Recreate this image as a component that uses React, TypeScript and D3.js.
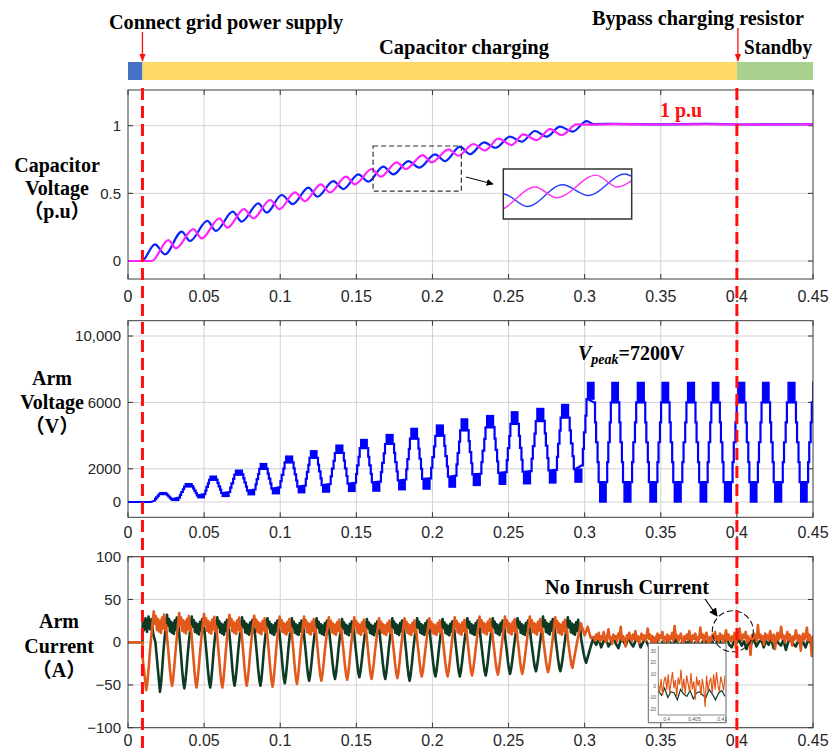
import * as d3 from "d3";

const W = 830;
const H = 753;
const X0 = 128;
const X1 = 813;

const SERIF = "'Liberation Serif', 'Times New Roman', 'Noto Sans CJK SC', serif";
const SANS = "'Liberation Sans', Arial, Helvetica, sans-serif";

// ---- axes ----
const X_TICKS = [0, 0.05, 0.1, 0.15, 0.2, 0.25, 0.3, 0.35, 0.4, 0.45];
const CAP_TICKS = [0, 0.5, 1];
const ARMV_TICKS = [0, 2000, 6000, 10000];
const ARMV_TICK_LABELS = ["0", "2000", "6000", "10,000"];
const ARMI_TICKS = [-100, -50, 0, 50, 100];

// ---- events ----
const CONNECT_T = 0.0095;
const BYPASS_T = 0.4;
const STAGE_FROM = [0, CONNECT_T, BYPASS_T];
const STAGE_TO = [CONNECT_T, BYPASS_T, 0.45];
const STAGE_COLOR = ["#4472c4", "#ffd966", "#a9d18e"];

// ---- capacitor voltage (p.u), extrema ----
const BLUE_T = [0, 0.009, 0.0177, 0.0243, 0.0353, 0.0407, 0.0521, 0.0578, 0.0688, 0.0747, 0.0856, 0.0911, 0.101, 0.1082, 0.1185, 0.1244, 0.1349, 0.1415, 0.1513, 0.1579, 0.1677, 0.1743, 0.1842, 0.1914, 0.2017, 0.2083, 0.2181, 0.2247, 0.2340, 0.2415, 0.251, 0.2586, 0.2674, 0.275, 0.2838, 0.2921, 0.3013, 0.306, 0.32, 0.35, 0.38, 0.41, 0.45];
const BLUE_V = [0, 0, 0.123, 0.049, 0.217, 0.148, 0.296, 0.222, 0.365, 0.291, 0.426, 0.357, 0.488, 0.421, 0.542, 0.475, 0.591, 0.532, 0.64, 0.586, 0.697, 0.64, 0.739, 0.69, 0.788, 0.739, 0.845, 0.79, 0.877, 0.837, 0.919, 0.882, 0.961, 0.919, 0.993, 0.956, 1.034, 1.012, 1.014, 1.01, 1.013, 1.009, 1.011];
const MAG_T = [0, 0.0156, 0.0265, 0.0315, 0.0429, 0.0484, 0.06, 0.0653, 0.0762, 0.0823, 0.0933, 0.0995, 0.1097, 0.1163, 0.1266, 0.1327, 0.1432, 0.1491, 0.1601, 0.166, 0.1765, 0.1826, 0.1936, 0.1995, 0.2105, 0.217, 0.2269, 0.2345, 0.2433, 0.252, 0.2597, 0.2685, 0.2772, 0.285, 0.2947, 0.303, 0.32, 0.35, 0.38, 0.41, 0.45];
const MAG_V = [0, 0, 0.155, 0.094, 0.236, 0.167, 0.315, 0.246, 0.384, 0.315, 0.451, 0.384, 0.507, 0.443, 0.567, 0.507, 0.623, 0.567, 0.68, 0.623, 0.729, 0.68, 0.783, 0.729, 0.825, 0.778, 0.865, 0.817, 0.904, 0.857, 0.936, 0.894, 0.975, 0.931, 1.01, 1.008, 1.012, 1.009, 1.011, 1.008, 1.01];
const CAP_ZOOM_T = [0.161, 0.219];
const CAP_ZOOM_V = [0.517, 0.85];
const CAP_INSET_T = [0.1676, 0.2036];
const CAP_INSET_V = [0.583, 0.811];

// ---- arm voltage (V): trough before each peak, then the peak ----
const ARMV_TROUGH_T = [0.015, 0.031, 0.048, 0.064, 0.081, 0.097, 0.114, 0.13, 0.147, 0.163, 0.18, 0.196, 0.213, 0.229, 0.246, 0.262, 0.279, 0.296, 0.312, 0.328, 0.345, 0.361, 0.378, 0.394, 0.411, 0.427, 0.444];
const ARMV_TROUGH = [0, 100, 260, 340, 440, 500, 560, 600, 640, 660, 740, 780, 900, 1000, 1070, 1100, 1150, 1200, 0, 0, 0, 0, 0, 0, 0, 0, 0];
const ARMV_PEAK_T = [0.023, 0.04, 0.056, 0.073, 0.089, 0.106, 0.122, 0.139, 0.155, 0.172, 0.188, 0.205, 0.221, 0.238, 0.254, 0.271, 0.287, 0.304, 0.32, 0.337, 0.353, 0.37, 0.386, 0.403, 0.419, 0.436, 0.452];
const ARMV_PEAK = [560, 1100, 1550, 1910, 2310, 2760, 3080, 3420, 3760, 4060, 4430, 4630, 5000, 5200, 5430, 5630, 5870, 7200, 7200, 7200, 7200, 7200, 7200, 7200, 7200, 7200, 7200];
// staircase: where the level changes inside each half cycle (fraction of the half)
const STAIR_AT = [0.26, 0.35, 0.44, 0.56, 0.65, 0.74];

// ---- arm current (A) ----
const ORANGE_DIP_T = [0.012, 0.029, 0.045, 0.062, 0.078, 0.095, 0.111, 0.127, 0.144, 0.16, 0.177, 0.193, 0.21, 0.226, 0.243, 0.259, 0.276, 0.292];
const ORANGE_DIP = [-56, -51, -53, -53, -51, -52, -49, -45, -44, -43, -42, -40, -40, -39, -38, -37, -35, -30];
const ORANGE_PEAK = [36, 34, 33, 32, 31, 30, 30, 29, 29, 28, 28, 28, 29, 30, 30, 30, 29, 22];
const GREEN_DIP_T = [0.021, 0.037, 0.054, 0.07, 0.087, 0.103, 0.119, 0.136, 0.152, 0.169, 0.185, 0.202, 0.218, 0.235, 0.251, 0.268, 0.284, 0.301];
const GREEN_DIP = [-58, -54, -53, -51, -51, -48, -45, -43, -41, -43, -45, -40, -40, -39, -37, -34, -34, -24];
const GREEN_PEAK = [32, 30, 29, 29, 28, 28, 28, 27, 27, 28, 28, 27, 28, 28, 28, 30, 29, 20];
// one cycle from dip to dip: negative = share of the dip, positive = share of the peak
const CUR_PHASE = [0.04, 0.09, 0.14, 0.19, 0.24, 0.29, 0.33, 0.37, 0.41, 0.45, 0.49, 0.53, 0.57, 0.61, 0.65, 0.69, 0.73, 0.77, 0.81, 0.86, 0.91, 0.96];
const CUR_LEVEL = [-0.85, -0.55, -0.2, 0.15, 0.6, 1, 0.6, 0.85, 0.4, 0.75, 0.35, 0.7, 0.3, 0.8, 0.45, 0.9, 0.4, 0.55, 0.1, -0.25, -0.6, -0.88];
const ORANGE_PRE_T = [0, 0.0095, 0.0097];
const ORANGE_PRE = [0, 0, -20];
const ORANGE_TAIL_T = [0.295, 0.2975, 0.3, 0.302, 0.304];
const ORANGE_TAIL = [0, 22, 8, 18, 5];
const GREEN_PRE_T = [0, 0.0095, 0.0097, 0.0105, 0.0115, 0.0125, 0.0135, 0.0145, 0.0155, 0.0165, 0.018];
const GREEN_PRE = [0, 0, 26, 14, 28, 12, 30, 15, 27, 10, 0];
const GREEN_TAIL_T = [0.3035, 0.3055];
const GREEN_TAIL = [-8, 4];
const NOISE_T = [0.306, 0.45];
const ORANGE_NOISE = [
  6, 2, 9, 4, 11, 1, 7, 3, 12, 5, 0, 8, 15, 3, 6, -2, 9, 4, 7, 1,
  10, 5, 18, 2, 7, 4, -5, 8, 3, 11, 6, 1, 9, 4, 13, 2, 7, -1, 5, 10,
  3, 8, 1, 6, 16, 4, 9, 0, 7, 3, -9, 6, 10, 2, 8, 5, 12, 1, 6, 3,
  9, -3, 7, 4, 11, 2, 19, 5, 8, 1, 6, 10, 3, -6, 7, 4, 9, 2, 13, 5,
  1, 8, 4, 10, -2, 6, 3, 17, 5, 9, 0, 7, 11, 4, -12, 6, 2, 9, 5, 12,
  3, 7, 1, 10, 4, 8, -4, 6, 14, 2, 9, 5, 1, 7, 3, 11, -7, 8, 4, 16,
  6, 2, 9, 5, 12, 0, 7, 3, -15, 8, 4, 10, 6, 1, 20, 5, 9, 3, 7, -3,
  10, 4, 8, 2, 13, 6, 1, 9, -8, 5, 11, 3, 7, 18, 4, 8, 0, 6, 12, 2,
  9, 5, -4, 7, 3, 14, 6, 1, 8, -10, 5, 10, 3, 7, 17, 2, 9, 4, -16, 8,
];
const GREEN_NOISE = [
  2, -3, 4, -6, 1, 3, -5, 0, 5, -2, -7, 3, 1, -4, 6, -1, -5, 2, 4, -6, 0, 3, -3, -8, 2, 5, -2, -4, 1, -6,
  3, 0, -5, 4, -2, -7, 2, 1, -3, 5, -5, -1, 3, -6, 0, 4, -4, -2, 2, -7, 1, 3, -5, 0, 4, -3, -6, 2, -1, 3,
  -4, 1, -8, 2, -2, 4, -5, 0, 3, -6, 1, -3, 5, -7, 2, -1, -4, 3, -9, 1, 4, -2, -5, 2, -3, 0, -6, 3, -1, -4,
];
// small inset (0.3985 .. 0.4105 s)
const INSET_T = [0.3985, 0.4105];
const INSET_I = [-25, 34.3];
const INSET_X_TICKS = [0.4, 0.405, 0.41];
const INSET_Y_TICKS = [-20, -10, 0, 10, 20, 30];
const INSET_ORANGE = [2, -5, 6, -8, 4, 8, -3, 10, -6, 3, 12, -2, 5, -9, 7, 1, 14, -4, 6, -7, 9, 2, -5, 11, -3, 4, -12, 8, 0, 5, -8, 6, -2, -18, 9, -4, 3, 7, -6, 10, -3, 12, 1, -5, 8, 3, -4, 9];
const INSET_GREEN = [-4, -8, -2, -10, -5, -6, -12, -3, -7, -9, -4, -11, -6, -5, -8, -10, -3, -7, -12, -6, -4, -9];

const x = d3.scaleLinear().domain([0, 0.45]).range([X0, X1]);
const P1 = { top: 90, bottom: 279 };
const P2 = { top: 320.7, bottom: 517.3 };
const P3 = { top: 556.7, bottom: 727.7 };
const yCap = d3.scaleLinear().domain([-0.133, 1.264]).range([P1.bottom, P1.top]);
const yArmV = d3.scaleLinear().domain([-923, 10923]).range([P2.bottom, P2.top]);
const yArmI = d3.scaleLinear().domain([-100, 100]).range([P3.bottom, P3.top]);

type Pt = [number, number];
const zip = (t: number[], v: number[]): Pt[] => t.map((d, i) => [d, v[i]]);
const fmtX = (v: number) => String(+v.toFixed(3));

function armVoltage() {
  const ext: { t: number; v: number }[] = [];
  ARMV_PEAK_T.forEach((t, i) => {
    ext.push({ t: ARMV_TROUGH_T[i], v: ARMV_TROUGH[i] });
    ext.push({ t, v: ARMV_PEAK[i] });
  });
  const line: Pt[] = [[0, 0]];
  const blocks: { t0: number; t1: number; v0: number; v1: number }[] = [];
  for (let i = 0; i < ext.length - 1; i++) {
    const a = ext[i];
    const b = ext[i + 1];
    const d = b.t - a.t;
    const s = (b.v - a.v) / 6;
    if (i === 0) line.push([a.t, a.v]);
    else line.push([a.t + STAIR_AT[0] * d, a.v + s]);
    for (let j = 1; j < 5; j++) {
      line.push([a.t + STAIR_AT[j] * d, a.v + j * s]);
      line.push([a.t + STAIR_AT[j] * d, a.v + (j + 1) * s]);
    }
    line.push([a.t + STAIR_AT[5] * d, a.v + 5 * s]);
    const next = ext[i + 2];
    const dOut = next ? next.t - b.t : d;
    blocks.push({
      t0: b.t - STAIR_AT[0] * d,
      t1: b.t + STAIR_AT[0] * dOut,
      v0: Math.min(b.v, b.v - s),
      v1: Math.max(b.v, b.v - s),
    });
  }
  return { line, blocks };
}

function current(dipT: number[], dip: number[], peak: number[], pre: Pt[], tail: Pt[], noise: number[]) {
  const pts: Pt[] = [...pre];
  for (let k = 0; k < dipT.length - 1; k++) {
    const d = dipT[k + 1] - dipT[k];
    pts.push([dipT[k], dip[k]]);
    CUR_PHASE.forEach((p, j) => {
      const lvl = CUR_LEVEL[j];
      const dv = p < 0.5 ? dip[k] : dip[k + 1];
      pts.push([dipT[k] + p * d, lvl < 0 ? -lvl * dv : lvl * peak[k]]);
    });
  }
  const last = dipT.length - 1;
  pts.push([dipT[last], dip[last]]);
  pts.push(...tail);
  const tn = d3.scaleLinear().domain([0, noise.length - 1]).range(NOISE_T);
  noise.forEach((v, i) => pts.push([tn(i), v]));
  return pts;
}

function Panel({ top, bottom, y, ticks, labels, xLabelY, id }: any) {
  return (
    <g>
      <rect x={X0} y={top} width={X1 - X0} height={bottom - top} fill="#fff" />
      {X_TICKS.slice(1, -1).map((t) => (
        <line key={"gx" + t} x1={x(t)} x2={x(t)} y1={top} y2={bottom} stroke="#d2d2d2" strokeWidth={1} />
      ))}
      {ticks.map((v: number) => (
        <line key={"gy" + v} x1={X0} x2={X1} y1={y(v)} y2={y(v)} stroke="#d2d2d2" strokeWidth={1} />
      ))}
      {ticks.map((v: number, i: number) => (
        <g key={"ty" + v}>
          <line x1={X0} x2={X0 + 5} y1={y(v)} y2={y(v)} stroke="#333" />
          <line x1={X1 - 5} x2={X1} y1={y(v)} y2={y(v)} stroke="#333" />
          <text x={121} y={y(v)} dy="0.35em" textAnchor="end" fontFamily={SANS} fontSize={15} fill="#262626">
            {labels ? labels[i] : String(v).replace("-", "\u2212")}
          </text>
        </g>
      ))}
      {X_TICKS.map((t) => (
        <g key={"tx" + t}>
          <line x1={x(t)} x2={x(t)} y1={bottom} y2={bottom - 5} stroke="#333" />
          <line x1={x(t)} x2={x(t)} y1={top} y2={top + 5} stroke="#333" />
          <text x={x(t)} y={xLabelY} textAnchor="middle" fontFamily={SANS} fontSize={16} fill="#262626">
            {fmtX(t)}
          </text>
        </g>
      ))}
      <clipPath id={id}>
        <rect x={X0} y={top} width={X1 - X0} height={bottom - top} />
      </clipPath>
    </g>
  );
}

function Frame({ top, bottom }: { top: number; bottom: number }) {
  return <rect x={X0} y={top} width={X1 - X0} height={bottom - top} fill="none" stroke="#3a3a3a" strokeWidth={1} />;
}

function Label({ cx, lines, baselines }: { cx: number; lines: string[]; baselines: number[] }) {
  return (
    <g fontFamily={SERIF} fontWeight="bold" fontSize={20} fill="#000" textAnchor="middle">
      {lines.map((s, i) => (
        <text key={s} x={cx} y={baselines[i]}>
          {s}
        </text>
      ))}
    </g>
  );
}

export default function App() {
  const capLine = d3.line<Pt>().x((d) => x(d[0])).y((d) => yCap(d[1])).curve(d3.curveMonotoneX);
  const blue = zip(BLUE_T, BLUE_V);
  const mag = zip(MAG_T, MAG_V);

  const ix = d3.scaleLinear().domain(CAP_INSET_T).range([503.3, 631.7]);
  const iy = d3.scaleLinear().domain(CAP_INSET_V).range([219, 169]);
  const insetLine = d3.line<Pt>().x((d) => ix(d[0])).y((d) => iy(d[1])).curve(d3.curveMonotoneX);

  const av = armVoltage();
  const avLine = d3.line<Pt>().x((d) => x(d[0])).y((d) => yArmV(d[1]));

  const iLine = d3.line<Pt>().x((d) => x(d[0])).y((d) => yArmI(d[1]));
  const green = current(GREEN_DIP_T, GREEN_DIP, GREEN_PEAK, zip(GREEN_PRE_T, GREEN_PRE), zip(GREEN_TAIL_T, GREEN_TAIL), GREEN_NOISE);
  const orange = current(ORANGE_DIP_T, ORANGE_DIP, ORANGE_PEAK, zip(ORANGE_PRE_T, ORANGE_PRE), zip(ORANGE_TAIL_T, ORANGE_TAIL), ORANGE_NOISE);

  const sx = d3.scaleLinear().domain(INSET_T).range([658.3, 725]);
  const sy = d3.scaleLinear().domain(INSET_I).range([715, 646]);
  const sOr = d3.scaleLinear().domain([0, INSET_ORANGE.length - 1]).range(INSET_T);
  const sGr = d3.scaleLinear().domain([0, INSET_GREEN.length - 1]).range(INSET_T);
  const smallLine = d3.line<Pt>().x((d) => sx(d[0])).y((d) => sy(d[1]));

  const red = "#ff1010";

  return (
    <svg width={W} height={H} style={{ position: "absolute", left: 0, top: 0, background: "#fff" }}>
      <defs>
        <marker id="ahBlack" viewBox="0 0 10 10" refX="9" refY="5" markerWidth="7" markerHeight="7" orient="auto">
          <path d="M0,0 L10,5 L0,10 z" fill="#000" />
        </marker>
        <marker id="ahRed" viewBox="0 0 10 10" refX="9" refY="5" markerWidth="6" markerHeight="7" orient="auto">
          <path d="M0,1 L10,5 L0,9 z" fill={red} />
        </marker>
        <clipPath id="capInset">
          <rect x={503.3} y={169} width={128.4} height={50} />
        </clipPath>
        <clipPath id="curInset">
          <rect x={658.3} y={646} width={67} height={69} />
        </clipPath>
      </defs>

      {/* stage bar */}
      {STAGE_FROM.map((f, i) => (
        <rect key={i} x={x(f)} y={62} width={x(STAGE_TO[i]) - x(f)} height={18} fill={STAGE_COLOR[i]} />
      ))}
      <g fontFamily={SERIF} fontWeight="bold" fontSize={20} fill="#000">
        <text x={109} y={29} textLength={234} lengthAdjust="spacingAndGlyphs">Connect grid power supply</text>
        <text x={592} y={25} textLength={212} lengthAdjust="spacingAndGlyphs">Bypass charging resistor</text>
        <text x={379} y={54} textLength={170} lengthAdjust="spacingAndGlyphs">Capacitor charging</text>
        <text x={744} y={54} textLength={68} lengthAdjust="spacingAndGlyphs">Standby</text>
      </g>
      <line x1={x(CONNECT_T)} x2={x(CONNECT_T)} y1={32} y2={61} stroke={red} strokeWidth={1.3} markerEnd="url(#ahRed)" />
      <line x1={x(BYPASS_T) + 1} x2={x(BYPASS_T) + 1} y1={28} y2={61} stroke={red} strokeWidth={1.3} markerEnd="url(#ahRed)" />

      {/* panel 1: capacitor voltage */}
      <Panel top={P1.top} bottom={P1.bottom} y={yCap} ticks={CAP_TICKS} xLabelY={302} id="clip1" />
      <g clipPath="url(#clip1)" fill="none" strokeWidth={2.2} strokeLinejoin="round">
        <path d={capLine(blue) || ""} stroke="#0a22fa" />
        <path d={capLine(mag) || ""} stroke="#ff22ff" />
      </g>
      <rect
        x={x(CAP_ZOOM_T[0])}
        y={yCap(CAP_ZOOM_V[1])}
        width={x(CAP_ZOOM_T[1]) - x(CAP_ZOOM_T[0])}
        height={yCap(CAP_ZOOM_V[0]) - yCap(CAP_ZOOM_V[1])}
        fill="none"
        stroke="#333"
        strokeWidth={1.2}
        strokeDasharray="5,3"
      />
      <line x1={466} y1={177} x2={493} y2={184} stroke="#000" strokeWidth={1} markerEnd="url(#ahBlack)" />
      <rect x={503.3} y={169} width={128.4} height={50} fill="#fff" />
      <g clipPath="url(#capInset)" fill="none" strokeWidth={1.4}>
        <path d={insetLine(blue) || ""} stroke="#2b3dff" />
        <path d={insetLine(mag) || ""} stroke="#ff33ee" />
      </g>
      <rect x={503.3} y={169} width={128.4} height={50} fill="none" stroke="#333" strokeWidth={1.5} />
      <text x={660} y={117} fontFamily={SERIF} fontWeight="bold" fontSize={20} fill={red}>
        1 p.u
      </text>
      <Frame top={P1.top} bottom={P1.bottom} />

      {/* panel 2: arm voltage */}
      <Panel top={P2.top} bottom={P2.bottom} y={yArmV} ticks={ARMV_TICKS} labels={ARMV_TICK_LABELS} xLabelY={538} id="clip2" />
      <g clipPath="url(#clip2)">
        {av.blocks.map((b, i) => (
          <rect key={i} x={x(b.t0)} y={yArmV(b.v1)} width={x(b.t1) - x(b.t0)} height={yArmV(b.v0) - yArmV(b.v1)} fill="#0000ff" stroke="#0000ff" strokeWidth={1.5} />
        ))}
        <path d={avLine(av.line) || ""} fill="none" stroke="#0000ff" strokeWidth={2.2} />
      </g>
      <text x={578} y={360} fontFamily={SERIF} fontWeight="bold" fontStyle="italic" fontSize={20} fill="#000">
        V
        <tspan fontSize={14} dy={4}>peak</tspan>
        <tspan fontStyle="normal" dy={-4}>=7200V</tspan>
      </text>
      <Frame top={P2.top} bottom={P2.bottom} />

      {/* panel 3: arm current */}
      <Panel top={P3.top} bottom={P3.bottom} y={yArmI} ticks={ARMI_TICKS} xLabelY={746} id="clip3" />
      <g clipPath="url(#clip3)" fill="none" strokeWidth={2.6} strokeLinejoin="round">
        <path d={iLine(green) || ""} stroke="#0d3a22" />
        <path d={iLine(orange) || ""} stroke="#e2591b" />
      </g>
      <rect x={648.3} y={643.3} width={77.7} height={79.4} fill="#fff" stroke="#666" strokeWidth={1} />
      <g clipPath="url(#curInset)" fill="none" strokeWidth={1.2}>
        <path d={smallLine(INSET_GREEN.map((v, i) => [sGr(i), v] as Pt)) || ""} stroke="#0d3a22" />
        <path d={smallLine(INSET_ORANGE.map((v, i) => [sOr(i), v] as Pt)) || ""} stroke="#e2591b" />
      </g>
      <g fontFamily={SANS} fontSize={5} fill="#555">
        <line x1={658.3} x2={658.3} y1={646} y2={715} stroke="#555" strokeWidth={0.7} />
        <line x1={658.3} x2={725} y1={715} y2={715} stroke="#555" strokeWidth={0.7} />
        {INSET_Y_TICKS.map((v) => (
          <text key={v} x={656} y={sy(v)} dy="0.35em" textAnchor="end">
            {v}
          </text>
        ))}
        {INSET_X_TICKS.map((t) => (
          <text key={t} x={sx(t)} y={720.5} textAnchor="middle">
            {fmtX(t)}
          </text>
        ))}
      </g>
      <circle cx={732.8} cy={631.3} r={20.5} fill="none" stroke="#111" strokeWidth={1.1} strokeDasharray="6,3" />
      <line x1={705} y1={599} x2={717} y2={616} stroke="#000" strokeWidth={1.2} markerEnd="url(#ahBlack)" />
      <text x={545} y={594} fontFamily={SERIF} fontWeight="bold" fontSize={20} textLength={164} lengthAdjust="spacingAndGlyphs" fill="#000">
        No Inrush Current
      </text>
      <Frame top={P3.top} bottom={P3.bottom} />

      {/* red event lines */}
      {[CONNECT_T, BYPASS_T].map((t) => (
        <line key={t} x1={x(t)} x2={x(t)} y1={88} y2={753} stroke={red} strokeWidth={3} strokeDasharray="12,6" />
      ))}

      {/* y labels */}
      <Label cx={57} lines={["Capacitor", "Voltage", "（p.u）"]} baselines={[171.5, 195, 218]} />
      <Label cx={52} lines={["Arm", "Voltage", "（V）"]} baselines={[385, 409, 433]} />
      <Label cx={59} lines={["Arm", "Current", "（A）"]} baselines={[628, 653, 677]} />
    </svg>
  );
}
